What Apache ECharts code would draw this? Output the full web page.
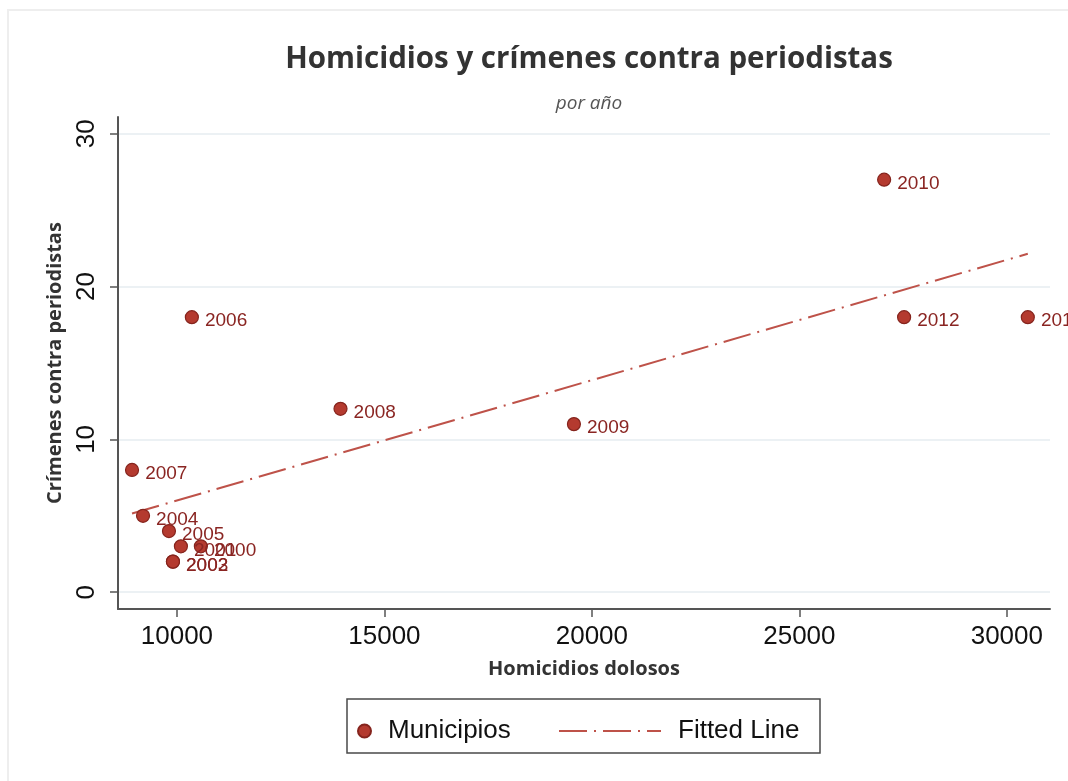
<!DOCTYPE html>
<html>
<head>
<meta charset="utf-8">
<script src="https://cdn.jsdelivr.net/npm/echarts@6/dist/echarts.min.js"></script>
<style>
  html, body { margin: 0; padding: 0; background: #ffffff; }
  #chart { width: 1068px; height: 781px; }
</style>
</head>
<body>
<div id="chart"></div>
<script>
// ---- Data ----
const years       = ['2000', '2001', '2002', '2003', '2004', '2005', '2006', '2007', '2008', '2009', '2010', '2011', '2012'];
const homicidios  = [10577, 10096, 9904, 9904, 9183, 9808, 10360, 8918, 13942, 19567, 27043, 30505, 27524];
const crimenes    = [3, 3, 2, 2, 5, 4, 18, 8, 12, 11, 27, 18, 18];
const fitX        = [8918, 30505];
const fitY        = [5.15, 22.15];
const xTicks      = [10000, 15000, 20000, 25000, 30000];
const yTicks      = [0, 10, 20, 30];

const scatterData = years.map((y, i) => [homicidios[i], crimenes[i], y]);
const fitData = fitX.map((x, i) => [x, fitY[i]]);

const chart = echarts.init(document.getElementById('chart'), null, { renderer: 'canvas' });

const option = {
  backgroundColor: '#ffffff',
  animation: false,
  title: {
    text: 'Homicidios y crímenes contra periodistas',
    subtext: 'por año',
    left: 584,
    textAlign: 'center',
    top: 40,
    itemGap: 19,
    textStyle: { fontFamily: 'Open Sans', fontWeight: 'bold', fontSize: 29.5, color: '#333333' },
    subtextStyle: { fontFamily: 'Open Sans', fontStyle: 'italic', fontSize: 19, color: '#555555' }
  },
  graphic: [
    { type: 'rect', shape: { x: 8, y: 10, width: 1100, height: 800 }, style: { fill: 'none', stroke: '#eeeeee', lineWidth: 2 }, silent: true },
    { type: 'rect', shape: { x: 347, y: 699, width: 473, height: 54 }, style: { fill: 'none', stroke: '#4a4a4a', lineWidth: 1.5 }, silent: true }
  ],
  legend: [
    {
      data: ['Municipios'],
      left: 352, top: 713,
      itemWidth: 13, itemHeight: 13,
      textStyle: { fontFamily: 'Liberation Sans', fontSize: 26, color: '#111111', padding: [0, 0, 0, 12] }
    },
    {
      data: ['Fitted Line'],
      left: 553, top: 713,
      itemWidth: 102, itemHeight: 13,
      itemStyle: { opacity: 0 },
      textStyle: { fontFamily: 'Liberation Sans', fontSize: 26, color: '#111111', padding: [0, 0, 0, 12] }
    }
  ],
  grid: { left: 118, right: 18, top: 117, bottom: 172 },
  xAxis: {
    type: 'value',
    min: 8580, max: 31040,
    name: 'Homicidios dolosos',
    nameLocation: 'middle',
    nameGap: 50,
    nameTextStyle: { fontFamily: 'Open Sans', fontWeight: 'bold', fontSize: 20, color: '#333333' },
    axisLine: { show: true, onZero: false, lineStyle: { color: '#555555', width: 2 } },
    axisTick: { show: true, length: 8, customValues: xTicks, lineStyle: { color: '#555555', width: 1.5 } },
    axisLabel: { customValues: xTicks, margin: 15, formatter: v => String(v), fontFamily: 'Liberation Sans', fontSize: 26, color: '#111111' },
    splitLine: { show: false }
  },
  yAxis: {
    type: 'value',
    min: -1.1, max: 31.1,
    name: 'Crímenes contra periodistas',
    nameLocation: 'middle',
    nameGap: 53,
    nameTextStyle: { fontFamily: 'Open Sans', fontWeight: 'bold', fontSize: 20, color: '#333333' },
    axisLine: { show: true, onZero: false, lineStyle: { color: '#555555', width: 2 } },
    axisTick: { show: true, length: 8, customValues: yTicks, lineStyle: { color: '#555555', width: 1.5 } },
    axisLabel: { customValues: yTicks, rotate: 90, margin: 18, formatter: v => String(v), fontFamily: 'Liberation Sans', fontSize: 26, color: '#111111' },
    splitLine: { show: true, lineStyle: { color: '#e6edf1', width: 1.5 } }
  },
  series: [
    {
      name: 'Municipios',
      type: 'scatter',
      data: scatterData,
      symbol: 'circle',
      symbolSize: 13,
      itemStyle: { color: '#b43a2f', borderColor: '#85241d', borderWidth: 1.2, opacity: 1 },
      label: {
        show: true,
        position: 'right',
        distance: 6,
        offset: [0, 4],
        formatter: p => p.value[2],
        fontFamily: 'Liberation Sans',
        fontSize: 19,
        color: '#8a2522'
      },
      z: 3
    },
    {
      name: 'Fitted Line',
      type: 'line',
      data: fitData,
      symbol: 'none',
      showSymbol: false,
      lineStyle: { color: '#be5249', width: 2, type: [28, 7, 2, 7] },
      itemStyle: { color: '#be5249' },
      z: 2
    }
  ]
};

chart.setOption(option);
</script>
</body>
</html>
